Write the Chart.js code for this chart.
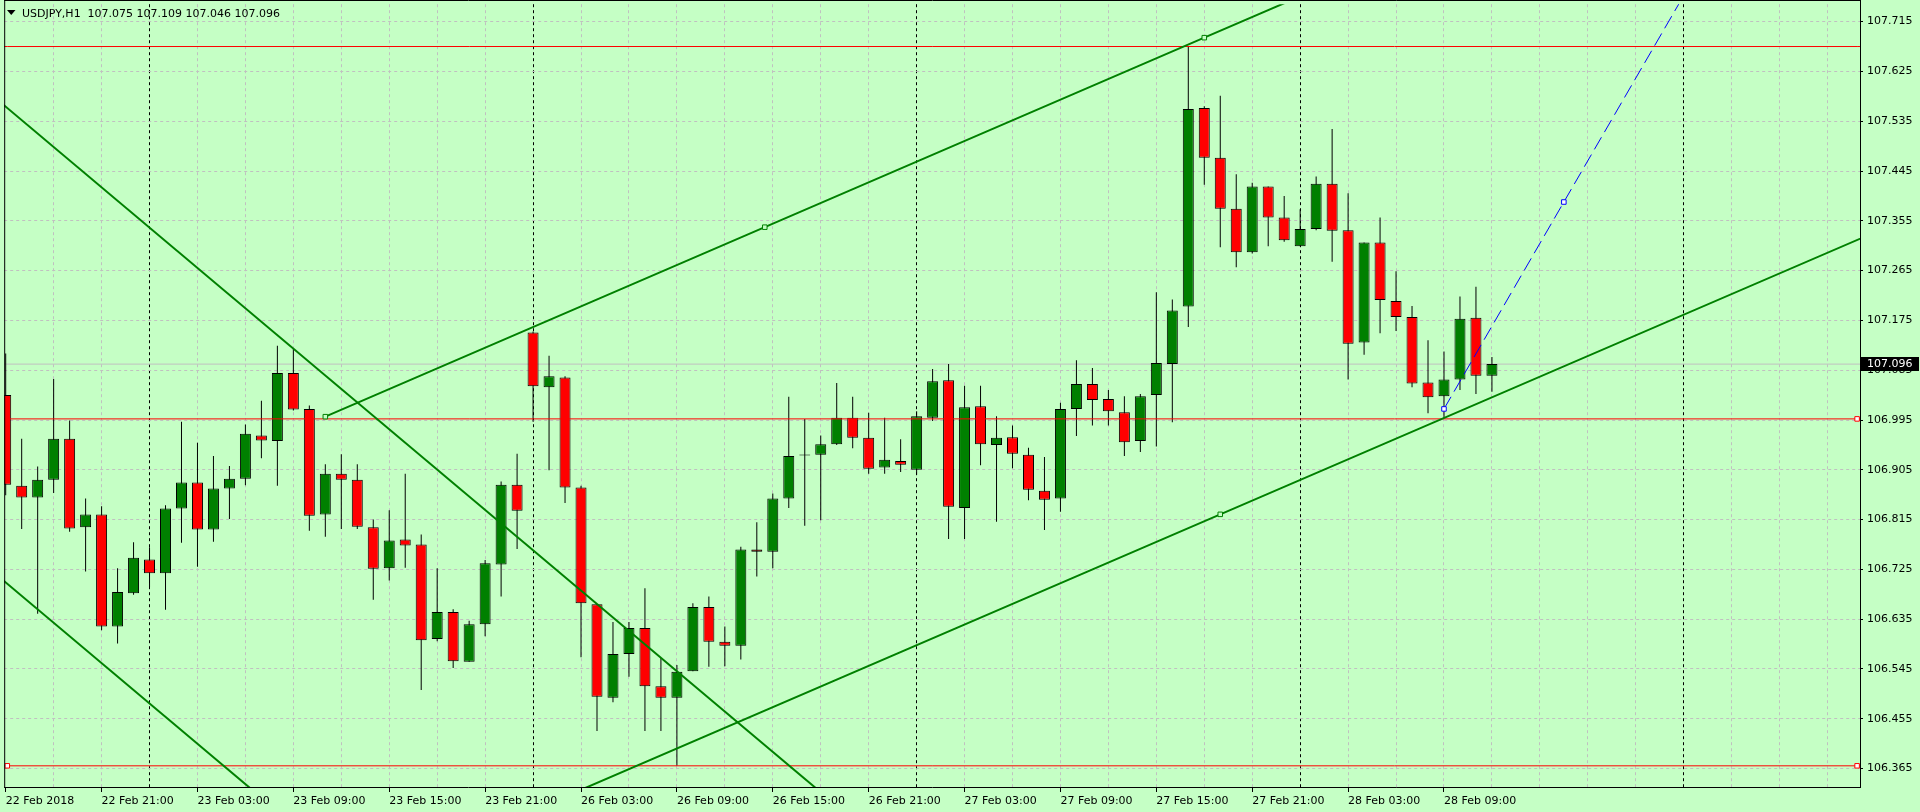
<!DOCTYPE html>
<html><head><meta charset="utf-8">
<script src="https://cdn.jsdelivr.net/npm/chart.js@4.4.1/dist/chart.umd.min.js"></script>
<style>html,body{margin:0;padding:0;background:#C5FFC5;overflow:hidden}#wrap{width:1920px;height:812px}</style>
</head><body><div id="wrap"><canvas id="c" width="1920" height="812" style="width:1920px;height:812px"></canvas></div>
<script>
// ---------------- data ----------------
const symbol = 'USDJPY';
const timeframe = 'H1';
// hourly bars, 22 Feb 2018 15:00 ... 28 Feb 2018 12:00 (bar index 0..93)
const openP = [107.040,106.876,106.855,106.887,106.961,106.801,106.824,106.622,106.682,106.743,
106.718,106.835,106.882,106.797,106.871,106.889,106.967,106.957,107.080,107.015,
106.824,106.898,106.887,106.801,106.727,106.779,106.770,106.599,106.648,106.558,
106.626,106.734,106.878,107.153,107.054,107.072,106.873,106.662,106.493,106.572,
106.619,106.514,106.493,106.541,106.657,106.594,106.587,106.761,106.757,106.853,
106.931,106.932,106.951,106.999,106.963,106.909,106.921,106.905,106.999,107.067,
106.836,107.020,106.950,106.964,106.932,106.867,106.853,107.015,107.060,107.033,
107.009,106.957,107.040,107.096,107.200,107.559,107.469,107.377,107.298,107.417,
107.361,107.309,107.340,107.422,107.338,107.135,107.316,107.210,107.181,107.063,
107.038,107.068,107.180,107.075];
const highP = [107.115,106.961,106.911,107.069,106.994,106.853,106.839,106.727,106.774,106.765,
106.841,106.992,106.954,106.930,106.912,106.987,107.030,107.129,107.124,107.021,
106.915,106.933,106.915,106.815,106.832,106.898,106.788,106.727,106.653,106.632,
106.742,106.884,106.934,107.155,107.111,107.074,106.876,106.662,106.630,106.630,
106.691,106.565,106.552,106.664,106.676,106.622,106.766,106.810,106.862,107.037,
106.997,106.967,107.062,107.037,107.008,106.999,106.960,107.011,107.087,107.096,
107.057,107.057,107.002,106.985,106.945,106.928,107.026,107.103,107.089,107.049,
107.038,107.042,107.226,107.213,107.670,107.562,107.581,107.439,107.424,107.417,
107.400,107.376,107.435,107.521,107.405,107.316,107.361,107.264,107.201,107.139,
107.119,107.218,107.236,107.109];
const lowP = [106.859,106.798,106.645,106.863,106.793,106.721,106.615,106.591,106.679,106.692,
106.652,106.773,106.730,106.775,106.816,106.877,106.926,106.876,107.012,106.795,
106.784,106.798,106.798,106.670,106.705,106.728,106.507,106.595,106.547,106.558,
106.604,106.676,106.762,106.992,106.904,106.845,106.566,106.433,106.485,106.531,
106.433,106.433,106.370,106.541,106.549,106.550,106.562,106.712,106.727,106.836,
106.804,106.814,106.950,106.944,106.898,106.898,106.901,106.896,106.993,106.780,
106.780,106.913,106.811,106.908,106.850,106.796,106.829,106.966,106.985,106.985,
106.930,106.937,106.947,106.991,107.163,107.420,107.307,107.271,107.296,107.309,
107.317,107.309,107.338,107.281,107.068,107.113,107.152,107.156,107.054,107.007,
106.998,107.049,107.042,107.046];
const closeP = [106.878,106.855,106.887,106.961,106.799,106.824,106.622,106.684,106.746,106.718,
106.835,106.882,106.797,106.871,106.889,106.970,106.958,107.080,107.014,106.822,
106.898,106.887,106.802,106.726,106.777,106.768,106.597,106.648,106.559,106.626,
106.736,106.878,106.831,107.056,107.074,106.873,106.664,106.495,106.572,106.619,
106.514,106.493,106.540,106.657,106.594,106.587,106.761,106.757,106.853,106.930,
106.931,106.951,106.999,106.963,106.907,106.923,106.914,107.002,107.065,106.838,
107.018,106.951,106.963,106.934,106.869,106.851,107.015,107.060,107.031,107.011,
106.955,107.038,107.098,107.193,107.557,107.469,107.377,107.298,107.417,107.361,
107.320,107.340,107.422,107.337,107.133,107.316,107.212,107.181,107.061,107.036,
107.068,107.178,107.075,107.096];

// time axis labels (bar index of each label)
const xTickBars = [0,6,12,18,24,30,36,42,48,54,60,66,72,78,84,90];
const xTickLabels = ['22 Feb 2018','22 Feb 21:00','23 Feb 03:00','23 Feb 09:00','23 Feb 15:00','23 Feb 21:00',
  '26 Feb 03:00','26 Feb 09:00','26 Feb 15:00','26 Feb 21:00','27 Feb 03:00','27 Feb 09:00',
  '27 Feb 15:00','27 Feb 21:00','28 Feb 03:00','28 Feb 09:00'];
const daySeparatorBars = [9,33,57,81,105];
const yTickValues = [106.365,106.455,106.545,106.635,106.725,106.815,106.905,106.995,
  107.085,107.175,107.265,107.355,107.445,107.535,107.625,107.715];

// drawn objects (bar index, price)
const upperTrendX = [20, 47.5, 75, 120];
const upperTrendY = [107.001, 107.3435, 107.686, 108.246];
const lowerTrendX = [30, 76, 120];
const lowerTrendY = [106.252, 106.8245, 107.372];
const descTrend1X = [-2, 52];
const descTrend1Y = [107.610, 106.298];
const descTrend2X = [-2, 18];
const descTrend2Y = [106.750, 106.264];
const blueTrendX = [90, 97.5, 110];
const blueTrendY = [107.015, 107.389, 108.011];
const redLevels = [107.670, 106.997, 106.370];
const hLineX = [-2, 0.1, 115.85, 118];

// ---------------- styling ----------------
const FONT = '"DejaVu Sans", sans-serif';
const BG = '#C5FFC5';
const GRID = 'rgb(192,192,192)';
const BULL = '#008000', BEAR = '#FF0000', LINEG = '#008000';

const idx = openP.map((_, i) => i);
const bodies = idx.map(i => ({x: i, y: [Math.min(openP[i], closeP[i]), Math.max(openP[i], closeP[i])]}));
const wicks = idx.map(i => ({x: i, y: [lowP[i], highP[i]]}));
const bodyColors = idx.map(i => closeP[i] > openP[i] ? BULL : (closeP[i] < openP[i] ? BEAR : '#000000'));
const gridBars = [];
for (let v = 0; v <= 114; v += 3) gridBars.push(v);
const last = closeP.length - 1;

function lineDS(xs, ys, color, width, dash, squares, fill) {
  return {
    type: 'line',
    data: xs.map((x, i) => ({x: x, y: ys[i]})),
    borderColor: color, borderWidth: width, borderDash: dash,
    pointStyle: 'rect',
    pointRadius: xs.map((_, i) => squares.includes(i) ? 3.2 : 0),
    pointHoverRadius: 0,
    pointBorderColor: color, pointBackgroundColor: fill, pointBorderWidth: 1,
    tension: 0, fill: false, clip: 0, order: 0
  };
}

const datasets = [
  lineDS(upperTrendX, upperTrendY, LINEG, 2, [], [0, 1, 2], BG),
  lineDS(lowerTrendX, lowerTrendY, LINEG, 2, [], [1], BG),
  lineDS(descTrend1X, descTrend1Y, LINEG, 2, [], [], BG),
  lineDS(descTrend2X, descTrend2Y, LINEG, 2, [], [], BG),
  lineDS(blueTrendX, blueTrendY, '#0000FF', 1, [14, 6], [0, 1], '#FFFFFF'),
  lineDS(hLineX, hLineX.map(() => redLevels[0]), '#FF0000', 1, [], [], '#FFFFFF'),
  lineDS(hLineX, hLineX.map(() => redLevels[1]), '#FF0000', 1, [], [2], '#FFFFFF'),
  lineDS(hLineX, hLineX.map(() => redLevels[2]), '#FF0000', 1, [], [1, 2], '#FFFFFF'),
  Object.assign(lineDS([-2, 118], [closeP[last], closeP[last]], GRID, 1, [], [], GRID), {order: 5}),
  {type: 'bar', data: bodies, backgroundColor: bodyColors, borderColor: '#000000', borderWidth: 1,
   borderSkipped: false, barThickness: 11, grouped: false, minBarLength: 1, inflateAmount: 0, clip: 0, order: 1},
  {type: 'bar', data: wicks, backgroundColor: '#000000', borderWidth: 0, barThickness: 1,
   grouped: false, inflateAmount: 0, clip: 0, order: 2}
];

const overlay = {
  id: 'overlay',
  afterDraw(chart) {
    const ctx = chart.ctx;
    const a = chart.chartArea;
    ctx.save();
    // frame
    ctx.strokeStyle = '#000'; ctx.lineWidth = 1; ctx.setLineDash([]);
    ctx.beginPath();
    ctx.moveTo(a.left + 0.5, 0); ctx.lineTo(a.left + 0.5, a.bottom);
    ctx.moveTo(a.right + 0.5, 0); ctx.lineTo(a.right + 0.5, a.bottom);
    ctx.moveTo(a.left, 0.5); ctx.lineTo(a.right + 1, 0.5);
    ctx.moveTo(a.left, a.bottom - 0.5); ctx.lineTo(a.right + 1, a.bottom - 0.5);
    ctx.stroke();
    // header
    ctx.fillStyle = '#000';
    ctx.beginPath(); ctx.moveTo(7, 10); ctx.lineTo(15.5, 10); ctx.lineTo(11.25, 15); ctx.closePath(); ctx.fill();
    ctx.font = '11px ' + FONT; ctx.textBaseline = 'alphabetic'; ctx.textAlign = 'left';
    const head = symbol + ',' + timeframe + '  ' + openP[last].toFixed(3) + ' ' + highP[last].toFixed(3) + ' ' +
      lowP[last].toFixed(3) + ' ' + closeP[last].toFixed(3);
    ctx.fillText(head, 22, 17);
    // current price label
    const yS = chart.scales.y;
    const py = Math.round(yS.getPixelForValue(closeP[last]));
    ctx.fillStyle = '#000';
    ctx.fillRect(a.right + 1, py - 7, 58, 14);
    ctx.fillStyle = '#FFFFFF';
    ctx.textBaseline = 'middle';
    ctx.fillText(closeP[last].toFixed(3), a.right + 7, py + 0.5);
    ctx.restore();
  }
};

new Chart(document.getElementById('c'), {
  type: 'bar',
  data: {datasets: datasets},
  plugins: [overlay],
  options: {
    responsive: false, animation: false, devicePixelRatio: 1, events: [],
    layout: {padding: {left: 2, top: 1, right: 0, bottom: 0}},
    plugins: {legend: {display: false}, tooltip: {enabled: false}, title: {display: false}},
    scales: {
      x: {
        type: 'linear', position: 'bottom', min: -0.09375, max: 116.03125, offset: false,
        afterBuildTicks(s) { s.ticks = gridBars.map(v => ({value: v})); },
        afterFit(s) { s.height = 24; s.paddingLeft = 0; s.paddingRight = 0; s.paddingTop = 0; s.paddingBottom = 0; },
        ticks: {
          autoSkip: false, maxRotation: 0, minRotation: 0, align: 'start', padding: 2.5,
          color: '#000', font: {family: FONT, size: 11},
          callback: (v) => { const j = xTickBars.indexOf(v); return j >= 0 ? xTickLabels[j] : ''; }
        },
        grid: {
          display: true, offset: false, drawOnChartArea: true, drawTicks: true, tickLength: 4, lineWidth: 1,
          borderDash: [3, 3], tickBorderDash: [],
          color: (c) => { const v = c.tick ? c.tick.value : -1; if (v === 0) return 'rgba(0,0,0,0)'; return daySeparatorBars.includes(v) ? '#000000' : GRID; },
          tickColor: (c) => (c.tick && xTickBars.includes(c.tick.value)) ? '#000000' : 'rgba(0,0,0,0)'
        },
        border: {display: false, dash: [3, 3]}
      },
      y: {
        type: 'linear', position: 'right', min: 106.3299, max: 107.7465,
        afterBuildTicks(s) { s.ticks = yTickValues.map(v => ({value: v})); },
        afterFit(s) { s.width = 60; s.paddingLeft = 0; s.paddingRight = 0; s.paddingTop = 0; s.paddingBottom = 0; },
        ticks: {
          autoSkip: false, padding: 4, color: '#000', font: {family: FONT, size: 11},
          callback: (v) => Number(v).toFixed(3)
        },
        grid: {
          display: true, offset: false, drawOnChartArea: true, drawTicks: true, tickLength: 3, lineWidth: 1,
          borderDash: [3, 3], tickBorderDash: [],
          color: GRID, tickColor: '#000000'
        },
        border: {display: false, dash: [3, 3]}
      }
    }
  }
});
</script></body></html>
